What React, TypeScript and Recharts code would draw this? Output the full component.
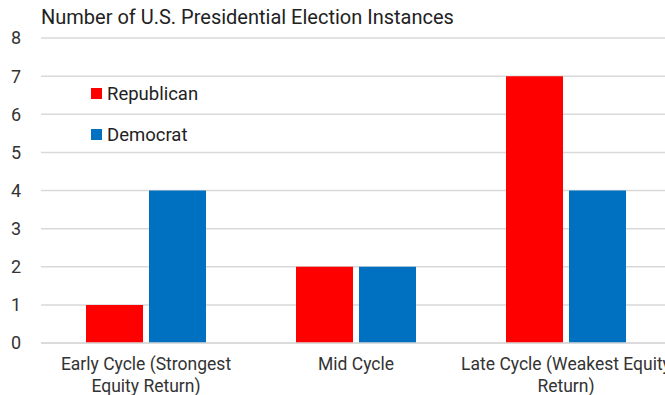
import { BarChart, Bar, XAxis, YAxis, CartesianGrid } from "recharts";

const categories = [
  ["Early Cycle (Strongest", "Equity Return)"],
  ["Mid Cycle"],
  ["Late Cycle (Weakest Equity", "Return)"],
];
const republican = [1, 2, 7];
const democrat = [4, 2, 4];
const yTicks = [0, 1, 2, 3, 4, 5, 6, 7, 8];

const data = categories.map((lines, i) => ({
  name: lines.join(" "),
  republican: republican[i],
  democrat: democrat[i],
}));

const FONT = "Roboto, Arial, sans-serif";

const CategoryTick = (props: any) => {
  const { x, y, index } = props;
  const lines = categories[index] || [];
  return (
    <text x={x} y={y + 19} textAnchor="middle" fill="#333" fontSize={17.5} fontFamily={FONT}>
      {lines.map((l, i) => (
        <tspan key={i} x={x} dy={i === 0 ? 0 : 21.5}>
          {l}
        </tspan>
      ))}
    </text>
  );
};

const legendItems = [
  { label: "Republican", color: "#ff0000" },
  { label: "Democrat", color: "#0070c0" },
];

export default function App() {
  return (
    <div style={{ position: "absolute", left: 0, top: 0, width: 665, height: 395, overflow: "hidden", background: "#fff" }}>
      <div
        style={{
          position: "absolute",
          left: 41,
          top: 5,
          fontFamily: FONT,
          fontSize: 20,
          color: "#222",
          whiteSpace: "nowrap",
        }}
      >
        Number of U.S. Presidential Election Instances
      </div>
      <BarChart
        width={680}
        height={395}
        data={data}
        margin={{ top: 38, right: 9, left: 0, bottom: 0 }}
        barCategoryGap={45}
        barGap={6}
      >
        <CartesianGrid vertical={false} stroke="#d9d9d9" strokeWidth={1.5} />
        <XAxis
          dataKey="name"
          axisLine={{ stroke: "#d9d9d9", strokeWidth: 1.5 }}
          tickLine={false}
          height={52}
          interval={0}
          tick={<CategoryTick />}
        />
        <YAxis
          width={41}
          domain={[0, 8]}
          ticks={yTicks}
          axisLine={false}
          tickLine={false}
          tick={{ fill: "#333", fontSize: 18, fontFamily: FONT, dx: -12 }}
        />
        <Bar dataKey="republican" name="Republican" fill="#ff0000" isAnimationActive={false} />
        <Bar dataKey="democrat" name="Democrat" fill="#0070c0" isAnimationActive={false} />
      </BarChart>
      <div style={{ position: "absolute", left: 91, top: 73, fontFamily: FONT, fontSize: 18.5, color: "#222" }}>
        {legendItems.map((e) => (
          <div key={e.label} style={{ display: "flex", alignItems: "center", height: 41 }}>
            <span style={{ width: 11, height: 11, background: e.color, marginRight: 5, display: "inline-block" }} />
            {e.label}
          </div>
        ))}
      </div>
    </div>
  );
}
